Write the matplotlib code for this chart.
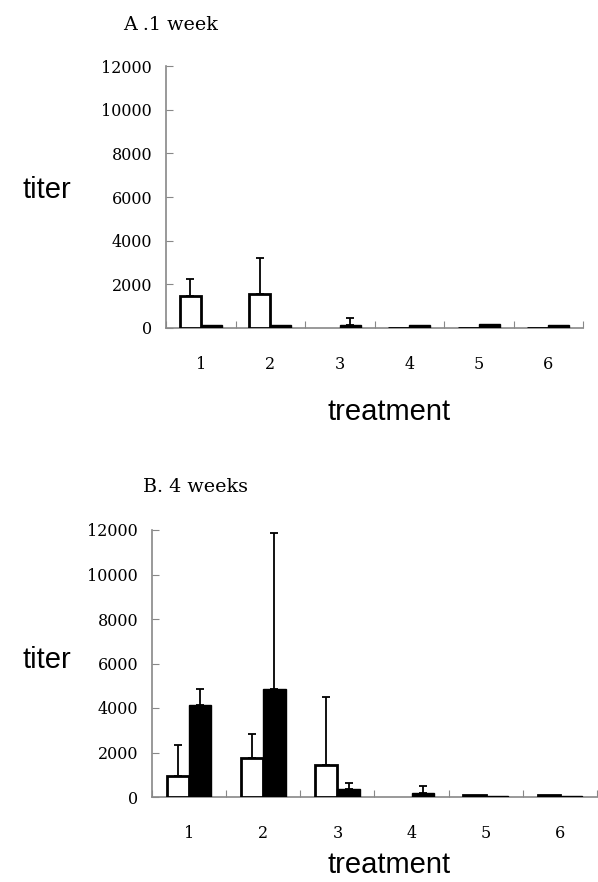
import numpy as np
import matplotlib
matplotlib.use('Agg')
import matplotlib.pyplot as plt

# データ
treatments = ['1', '2', '3', '4', '5', '6']

# A. 1 week
a_white = [1450, 1550, 0, 20, 20, 20]
a_white_err = [800, 1650, 0, 0, 0, 0]
a_black = [150, 150, 150, 150, 180, 150]
a_black_err = [0, 0, 300, 0, 0, 0]

# B. 4 weeks
b_white = [950, 1750, 1450, 0, 90, 90]
b_white_err = [1400, 1100, 3050, 0, 0, 0]
b_black = [4150, 4850, 360, 200, 50, 50]
b_black_err = [700, 7000, 260, 300, 0, 0]

serif = 'DejaVu Serif'
sans = 'Liberation Sans'

fig = plt.figure(figsize=(5.98, 8.82), dpi=100)


def panel(rect, white, white_err, black, black_err, title, title_xy, ylab_y, xlab_y):
    ax = fig.add_axes(rect)
    x = np.arange(len(treatments)) + 0.5
    w = 0.3
    white = np.array(white); black = np.array(black)
    mw = white > 0
    mb = black > 0
    ax.bar((x - w / 2)[mw], white[mw], w, color='white', edgecolor='black', linewidth=2, zorder=3)
    ax.bar((x + w / 2)[mb], black[mb], w, color='black', edgecolor='black', linewidth=1, zorder=3)
    for xs, v, e in [(x - w / 2, white, white_err), (x + w / 2, black, black_err)]:
        e = np.array(e)
        m = e > 0
        ax.errorbar(xs[m], v[m], yerr=[np.zeros(m.sum()), e[m]], fmt='none',
                    ecolor='black', elinewidth=1.3, capsize=3, capthick=1.3, zorder=4)
    ax.set_xlim(0, 6)
    ax.set_ylim(0, 12000)
    ax.set_yticks(np.arange(0, 12001, 2000))
    ax.set_yticklabels([str(t) for t in range(0, 12001, 2000)], fontfamily=serif, fontsize=11.5)
    ax.set_xticks(np.arange(0, 7))
    ax.set_xticklabels([])
    ax.set_xticks(x, minor=True)
    ax.set_xticklabels(treatments, minor=True, fontfamily=serif, fontsize=11.5)
    ax.tick_params(axis='x', which='minor', length=0, pad=20)
    ax.tick_params(axis='x', which='major', direction='in', length=5, color='#888888')
    ax.tick_params(axis='y', direction='in', length=5, color='#888888', pad=10)
    for s in ['top', 'right']:
        ax.spines[s].set_visible(False)
    for s in ['left', 'bottom']:
        ax.spines[s].set_color('#888888')
        ax.spines[s].set_linewidth(1.2)
    fig.text(title_xy[0], title_xy[1], title, fontfamily=serif, fontsize=13.8, va='center')
    fig.text(22 / 598, ylab_y, 'titer', fontfamily=sans, fontsize=21, va='center')
    fig.text((rect[0] + rect[0] + rect[2]) / 2 + 0.025, xlab_y, 'treatment', fontfamily=sans,
             fontsize=21, ha='center', va='center')
    return ax


panel([166 / 598, 1 - 328 / 882, 417 / 598, 262 / 882], a_white, a_white_err, a_black, a_black_err,
      'A .1 week', (123 / 598, 1 - 25 / 882), 1 - 190 / 882, 1 - 412 / 882)
panel([152 / 598, 1 - 797 / 882, 445 / 598, 267 / 882], b_white, b_white_err, b_black, b_black_err,
      'B. 4 weeks', (143 / 598, 1 - 487 / 882), 1 - 660 / 882, 1 - 865 / 882)

fig.savefig('out.png', dpi=100)
